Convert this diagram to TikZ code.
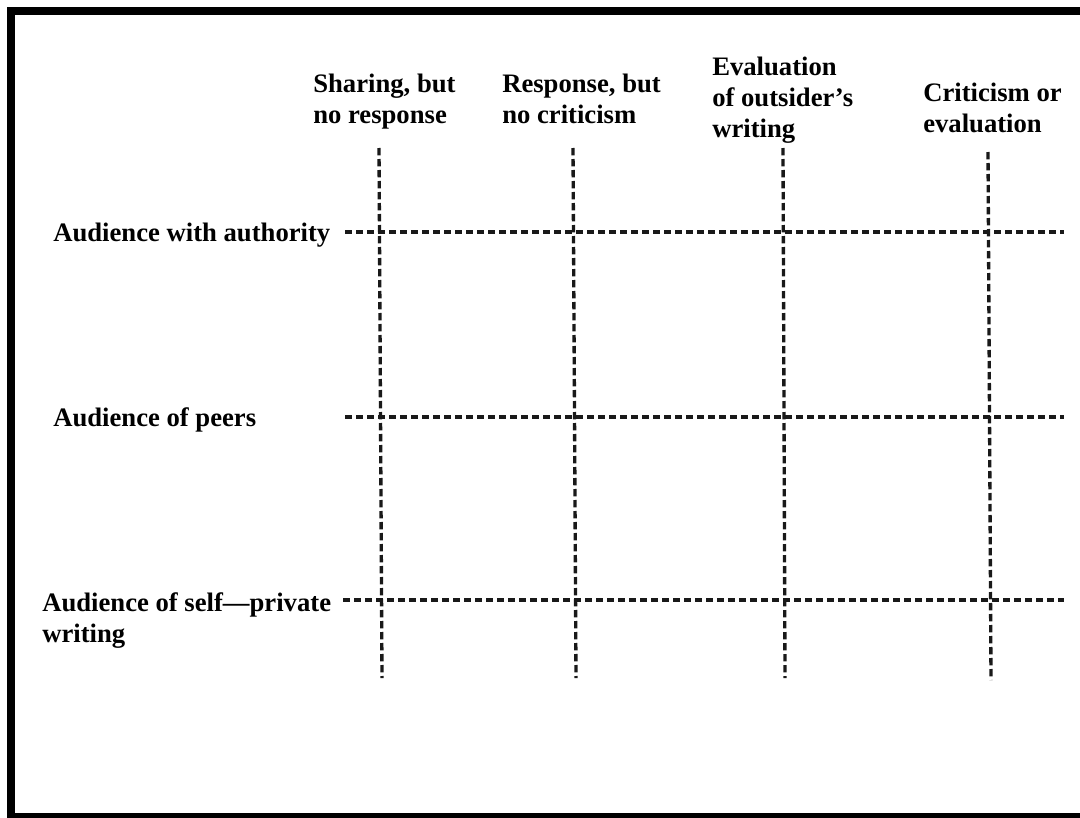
\documentclass[tikz,border=0pt]{standalone}
\usepackage{fontspec}
\setmainfont{Liberation Serif}
\begin{document}
\begin{tikzpicture}[x=0.75pt,y=-0.75pt,
  frame/.style={line width=6pt,draw=black},
  gridline/.style={line width=2.5pt,dash pattern=on 5.5pt off 2.75pt,draw=black!90},
  lbl/.style={inner sep=0pt,anchor=base west,align=left,
    font=\bfseries\fontsize{20}{23.25}\selectfont}]
\useasboundingbox (0,0) rectangle (1080,817);
\clip (0,0) rectangle (1080,817);
\fill[white] (0,0) rectangle (1080,817);
\draw[frame] (11,11) rectangle (1100,817);

% column headings (anchored at the baseline of their last line)
\node[lbl] (c1) at (313,123) {Sharing, but\\no response};
\node[lbl] (c2) at (502,123) {Response, but\\no criticism};
\node[lbl] (c3) at (712,137) {Evaluation\\of outsider’s\\writing};
\node[lbl] (c4) at (923,132) {Criticism or\\evaluation};

% row headings
\node[lbl] (r1) at (53,241) {Audience with authority};
\node[lbl] (r2) at (53,426) {Audience of peers};
\node[lbl] (r3) at (42,642) {Audience of self—private\\writing};

% grid end points
\coordinate (v1t) at (379,148); \coordinate (v1b) at (382,678);
\coordinate (v2t) at (573,148); \coordinate (v2b) at (576,678);
\coordinate (v3t) at (783,148); \coordinate (v3b) at (785,678);
\coordinate (v4t) at (988,152); \coordinate (v4b) at (991,680);
\coordinate (h1l) at (345,232); \coordinate (h1r) at (1064,232);
\coordinate (h2l) at (345,417); \coordinate (h2r) at (1064,417);
\coordinate (h3l) at (343,600); \coordinate (h3r) at (1064,600);

% dashed grid
\draw[gridline] (v1t) -- (v1b);
\draw[gridline] (v2t) -- (v2b);
\draw[gridline] (v3t) -- (v3b);
\draw[gridline] (v4t) -- (v4b);
\draw[gridline] (h1l) -- (h1r);
\draw[gridline] (h2l) -- (h2r);
\draw[gridline] (h3l) -- (h3r);
\end{tikzpicture}
\end{document}
